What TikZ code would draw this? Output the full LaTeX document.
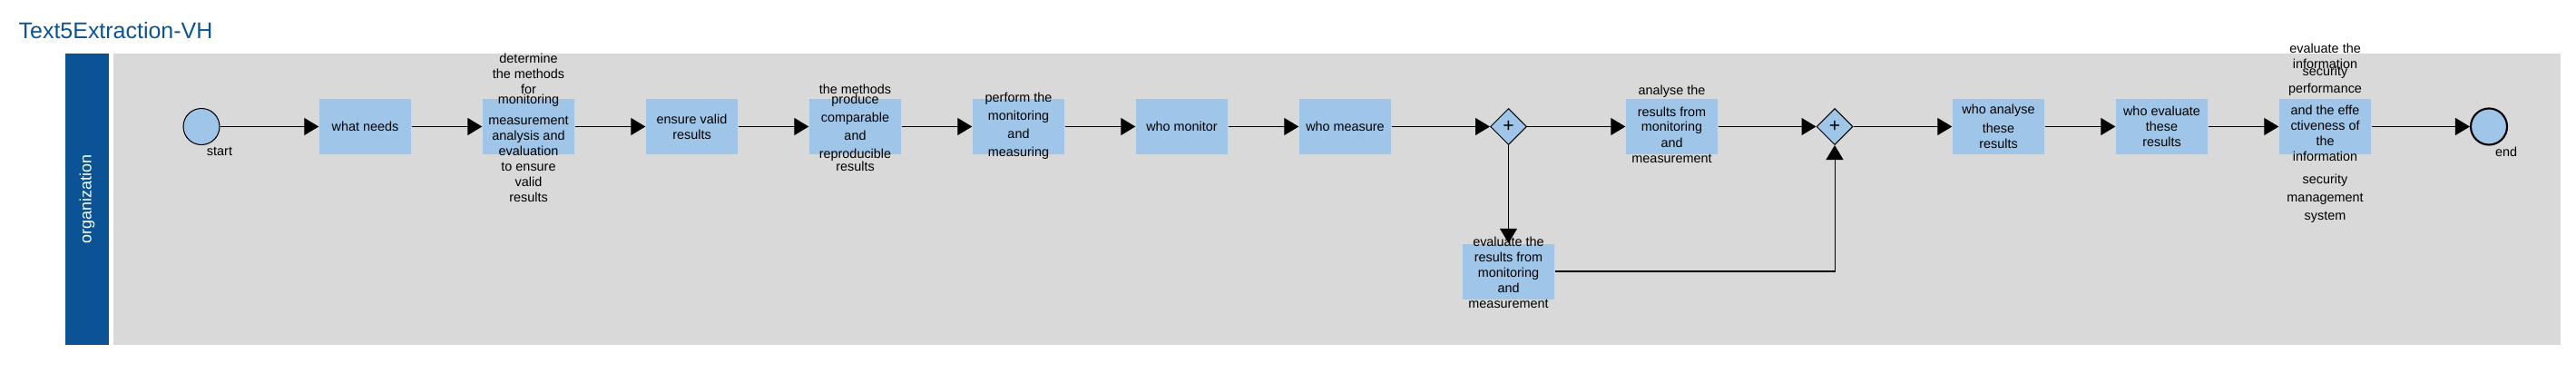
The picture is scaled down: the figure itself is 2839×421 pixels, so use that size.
\documentclass[tikz,border=0pt]{standalone}
\usepackage{fontspec}
\setmainfont{Liberation Sans}
\usetikzlibrary{shapes.geometric,arrows.meta}
\definecolor{taskblue}{HTML}{9FC5E8}
\definecolor{laneblue}{HTML}{0B5394}
\definecolor{poolgray}{HTML}{D9D9D9}
\newcommand\boxfont{\fontsize{4.1pt}{4.84pt}\selectfont}

\begin{document}
\begin{tikzpicture}[x=0.1mm,y=-0.1mm,
    task/.style={fill=taskblue, minimum width=10.1mm, minimum height=6.1mm, inner sep=0pt, align=center, font=\boxfont},
    txt/.style={align=center, inner sep=0pt, font=\boxfont},
    gate/.style={diamond, draw, line width=0.3pt, fill=taskblue, minimum width=4mm, minimum height=4mm, inner sep=0pt, font=\fontsize{6pt}{6pt}\selectfont},
    event/.style={circle, draw, line width=0.3pt, fill=taskblue, minimum size=4mm, inner sep=0pt},
    flow/.style={-{Triangle[length=1.6mm,width=1.9mm]}, line width=0.3pt}]
    \useasboundingbox (0,0) rectangle (2839,421);
    %\draw[help lines] (0,0) grid (2839,421);
    \node[anchor=base west, inner sep=0pt, text=laneblue, font=\fontsize{7.1pt}{8pt}\selectfont] (title) at (20,43) {Text5Extraction-VH};
    \fill[poolgray] (125,59) rectangle (2822,380);
    \node[fill=laneblue, text=white, rotate=90, inner sep=0pt, minimum width=32.1mm, minimum height=4.8mm, font=\fontsize{5.1pt}{6pt}\selectfont] (lane) at (96,219.5) {organization};
    % ligne principale
    \node[event] (start) at (222,139.5) {};
    \node[txt] (startlbl) at (242,167) {start};
    \node[task] (t1) at (402.5,139.5) {what needs};
    \node[task] (t2) at (582.5,139.5) {};
    \node[txt] (t2txt) at (582.5,140.5) {determine\\the methods\\for\\[-0.6mm]monitoring\\[0.6mm]measurement\\analysis and\\evaluation\\to ensure\\valid\\results};
    \node[task] (t3) at (762.5,139.5) {ensure valid\\results};
    \node[task] (t4) at (942.5,139.5) {};
    \node[txt] (t4txt) at (942.5,140.5) {the methods\\[-0.6mm]produce\\[0.3mm]comparable\\[0.3mm]and\\[0.3mm]reproducible\\[-0.3mm]results};
    \node[task] (t5) at (1122.5,139.5) {};
    \node[txt] (t5txt) at (1122.5,139) {perform the\\[0.3mm]monitoring\\[0.3mm]and\\[0.3mm]measuring};
    \node[task] (t6) at (1302.5,139.5) {who monitor};
    \node[task] (t7) at (1482.5,139.5) {who measure};
    \node[gate] (g1) at (1662.5,139.5) {+};
    \node[task] (t8) at (1842.5,139.5) {};
    \node[txt] (t8txt) at (1842.5,136.5) {analyse the\\[0.7mm]results from\\[-0.1mm]monitoring\\[0.1mm]and\\measurement};
    \node[task] (t9) at (1662.5,299) {};
    \node[txt] (t9txt) at (1662.5,300) {evaluate the\\results from\\monitoring\\and\\measurement};
    \node[gate] (g2) at (2022,139.5) {+};
    \node[task] (t10) at (2202.5,139.5) {who analyse\\[0.4mm]these\\results};
    \node[task] (t11) at (2382.5,139.5) {who evaluate\\these\\results};
    \node[task] (t12) at (2562.5,139.5) {};
    \node[txt] (t12txt) at (2562.5,147) {evaluate the\\information\\[-0.9mm]security\\[0.2mm]performance\\[0.7mm]and the effe\\ctiveness of\\the\\information\\[0.8mm]security\\[0.3mm]management\\[0.3mm]system};
    \node[event, line width=0.6pt] (stop) at (2743,139.5) {};
    \node[txt] (stoplbl) at (2762,167) {end};
    % connecteurs
    \draw[flow] (start) -- (t1);
    \draw[flow] (t1) -- (t2);
    \draw[flow] (t2) -- (t3);
    \draw[flow] (t3) -- (t4);
    \draw[flow] (t4) -- (t5);
    \draw[flow] (t5) -- (t6);
    \draw[flow] (t6) -- (t7);
    \draw[flow] (t7) -- (g1);
    \draw[flow] (g1) -- (t8);
    \draw[flow] (g1) -- (t9);
    \draw[flow] (t8) -- (g2);
    \draw[flow] (t9) -| (g2);
    \draw[flow] (g2) -- (t10);
    \draw[flow] (t10) -- (t11);
    \draw[flow] (t11) -- (t12);
    \draw[flow] (t12) -- (stop);
\end{tikzpicture}
\end{document}
